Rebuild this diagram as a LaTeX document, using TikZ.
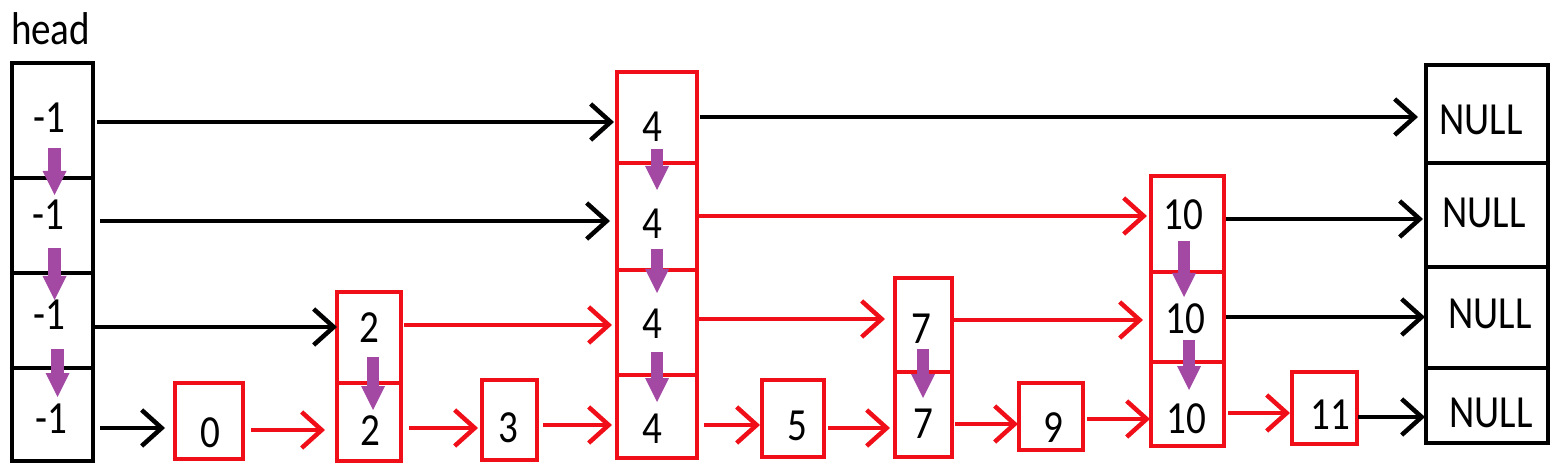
\documentclass[tikz,border=0pt]{standalone}
\usepackage{fontspec}
\setmainfont{Carlito}[FakeStretch=0.85]
\usetikzlibrary{arrows.meta}
\definecolor{lred}{RGB}{240,14,24}
\definecolor{lpurple}{RGB}{163,73,164}
\begin{document}
\begin{tikzpicture}[x=1pt,y=-1pt,
  bcell/.style={draw=black, line width=4.5pt, inner sep=0pt, outer sep=0pt},
  rcell/.style={draw=lred, line width=4.5pt, inner sep=0pt, outer sep=0pt},
  txt/.style={anchor=base, inner sep=0pt, outer sep=0pt, font=\fontsize{46}{50}\selectfont},
  conn/.style={line width=4.5pt, -{Straight Barb[length=20pt,width=36pt]}},
  barr/.style={conn, draw=black},
  rarr/.style={conn, draw=lred},
  parr/.style={draw=lpurple, line width=12.5pt, -{Triangle[length=24pt,width=24pt,line width=0pt]}}
]
\useasboundingbox (0,0) rectangle (1560,470);

% head column
\node[txt, anchor=base west] (hd) at (11,45) {head};
\node[bcell, minimum width=81pt, minimum height=115pt] (h1) at (52.5,120.5) {};
\node[bcell, minimum width=81pt, minimum height=95pt]  (h2) at (52.5,225.5) {};
\node[bcell, minimum width=81pt, minimum height=95pt]  (h3) at (52.5,320.5) {};
\node[bcell, minimum width=81pt, minimum height=93pt]  (h4) at (52.5,414.5) {};
\node[txt] (th1) at (49,133) {-1};
\node[txt] (th2) at (48,230) {-1};
\node[txt] (th3) at (49,329) {-1};
\node[txt] (th4) at (51,433) {-1};

% node 0
\node[rcell, minimum width=68pt, minimum height=76pt] (n0) at (209,421) {};
\node[txt] (t0) at (210,447) {0};

% node 2
\node[rcell, minimum width=64pt, minimum height=91pt] (n2a) at (369,337.5) {};
\node[rcell, minimum width=64pt, minimum height=78pt] (n2b) at (369,422) {};
\node[txt] (t2a) at (369,342) {2};
\node[txt] (t2b) at (370,445) {2};

% node 3
\node[rcell, minimum width=55pt, minimum height=80pt] (n3) at (509.5,420) {};
\node[txt] (t3) at (508,442) {3};

% node 4
\node[rcell, minimum width=80pt, minimum height=91pt]  (n4a) at (657,117.5) {};
\node[rcell, minimum width=80pt, minimum height=107pt] (n4b) at (657,216.5) {};
\node[rcell, minimum width=80pt, minimum height=105pt] (n4c) at (657,322.5) {};
\node[rcell, minimum width=80pt, minimum height=83pt]  (n4d) at (657,416.5) {};
\node[txt] (t4a) at (652,142) {4};
\node[txt] (t4b) at (652,239) {4};
\node[txt] (t4c) at (652,338) {4};
\node[txt] (t4d) at (652,443) {4};

% node 5
\node[rcell, minimum width=62pt, minimum height=77pt] (n5) at (793,418.5) {};
\node[txt] (t5) at (797,440) {5};

% node 7
\node[rcell, minimum width=57pt, minimum height=94pt] (n7a) at (923.5,325) {};
\node[rcell, minimum width=57pt, minimum height=85pt] (n7b) at (923.5,414.5) {};
\node[txt] (t7a) at (921,343) {7};
\node[txt] (t7b) at (923,438) {7};

% node 9
\node[rcell, minimum width=64pt, minimum height=67pt] (n9) at (1051,416.5) {};
\node[txt] (t9) at (1053,442) {9};

% node 10
\node[rcell, minimum width=73pt, minimum height=96pt] (n10a) at (1187.5,224) {};
\node[rcell, minimum width=73pt, minimum height=90pt] (n10b) at (1187.5,317) {};
\node[rcell, minimum width=73pt, minimum height=84pt] (n10c) at (1187.5,404) {};
\node[txt] (t10a) at (1183,230) {10};
\node[txt] (t10b) at (1185,333) {10};
\node[txt] (t10c) at (1186,433) {10};

% node 11
\node[rcell, minimum width=65pt, minimum height=72pt] (n11) at (1324.5,408) {};
\node[txt] (t11) at (1330,429) {11};

% NULL column
\node[bcell, minimum width=122pt, minimum height=98pt]  (N1) at (1487,114) {};
\node[bcell, minimum width=122pt, minimum height=104pt] (N2) at (1487,215) {};
\node[bcell, minimum width=122pt, minimum height=101pt] (N3) at (1487,317.5) {};
\node[bcell, minimum width=122pt, minimum height=75pt]  (N4) at (1487,405.5) {};
\node[txt] (tN1) at (1481,135) {NULL};
\node[txt] (tN2) at (1484,228) {NULL};
\node[txt] (tN3) at (1490,328) {NULL};
\node[txt] (tN4) at (1491,427) {NULL};

% level 1
\draw[barr, shorten <=4pt, shorten >=3pt] ([yshift=-1.5pt]h1.east) -- ([yshift=-1.5pt]h1.east -| n4a.west);
\draw[barr, shorten <=3pt, shorten >=8pt] ([yshift=0.5pt]n4a.east) -- ([yshift=0.5pt]n4a.east -| N1.west);
% level 2
\draw[barr, shorten <=7pt, shorten >=7pt] ([yshift=4.5pt]h2.east) -- ([yshift=4.5pt]h2.east -| n4b.west);
\draw[rarr, shorten <=1pt, shorten >=4pt] ([yshift=0.5pt]n4b.east) -- ([yshift=0.5pt]n4b.east -| n10a.west);
\draw[barr, shorten <=2pt, shorten >=3pt] ([yshift=5pt]n10a.east) -- ([yshift=5pt]n10a.east -| N2.west);
% level 3
\draw[barr, shorten <=0pt, shorten >=0pt] ([yshift=-6.5pt]h3.east) -- ([yshift=-6.5pt]h3.east -| n2a.west);
\draw[rarr, shorten <=3pt, shorten >=5pt] ([yshift=12.5pt]n2a.east) -- ([yshift=12.5pt]n2a.east -| n4c.west);
\draw[rarr, shorten <=1pt, shorten >=10pt] ([yshift=3.5pt]n4c.east) -- ([yshift=3.5pt]n4c.east -| n7a.west);
\draw[rarr, shorten <=2pt, shorten >=8pt] ([yshift=5pt]n7a.east) -- ([yshift=5pt]n7a.east -| n10b.west);
\draw[barr, shorten <=2pt, shorten >=1pt] (n10b.east) -- (n10b.east -| N3.west);
% level 4
\draw[barr, shorten <=7pt, shorten >=10pt] ([yshift=-13.5pt]h4.east) -- ([yshift=-13.5pt]h4.east -| n0.west);
\draw[rarr, shorten <=8pt, shorten >=12pt] ([yshift=-9pt]n0.east) -- ([yshift=-9pt]n0.east -| n2b.west);
\draw[rarr, shorten <=8pt, shorten >=4pt] ([yshift=-6pt]n2b.east) -- ([yshift=-6pt]n2b.east -| n3.west);
\draw[rarr, shorten <=6pt, shorten >=5pt] ([yshift=-5pt]n3.east) -- ([yshift=-5pt]n3.east -| n4d.west);
\draw[rarr, shorten <=7pt, shorten >=2pt] ([yshift=-8.5pt]n4d.east) -- ([yshift=-8.5pt]n4d.east -| n5.west);
\draw[rarr, shorten <=4pt, shorten >=5pt] ([yshift=-9.5pt]n5.east) -- ([yshift=-9.5pt]n5.east -| n7b.west);
\draw[rarr, shorten <=3pt, shorten >=1pt] ([yshift=-9.5pt]n7b.east) -- ([yshift=-9.5pt]n7b.east -| n9.west);
\draw[rarr, shorten <=4pt, shorten >=1pt] ([yshift=-2.5pt]n9.east) -- ([yshift=-2.5pt]n9.east -| n10c.west);
\draw[rarr, shorten <=4pt, shorten >=2pt] ([yshift=-9pt]n10c.east) -- ([yshift=-9pt]n10c.east -| n11.west);
\draw[barr, shorten <=1pt, shorten >=1pt] ([yshift=-9pt]n11.east) -- ([yshift=-9pt]n11.east -| N4.west);

% purple down arrows
\draw[parr] ([xshift=2pt,yshift=30pt]h1.south) -- ([xshift=2pt,yshift=-17pt]h1.south);
\draw[parr] ([xshift=2pt,yshift=25pt]h2.south) -- ([xshift=2pt,yshift=-27pt]h2.south);
\draw[parr] ([xshift=5pt,yshift=19pt]h3.south) -- ([xshift=5pt,yshift=-29pt]h3.south);
\draw[parr] ([xshift=4pt,yshift=26pt]n2a.south) -- ([xshift=4pt,yshift=-27pt]n2a.south);
\draw[parr] ([xshift=0pt,yshift=14pt]n4a.south) -- ([xshift=0pt,yshift=-27pt]n4a.south);
\draw[parr] ([xshift=0pt,yshift=21pt]n4b.south) -- ([xshift=0pt,yshift=-23pt]n4b.south);
\draw[parr] ([xshift=0pt,yshift=23pt]n4c.south) -- ([xshift=0pt,yshift=-27pt]n4c.south);
\draw[parr] ([xshift=-0.5pt,yshift=23pt]n7a.south) -- ([xshift=-0.5pt,yshift=-26pt]n7a.south);
\draw[parr] ([xshift=-3.5pt,yshift=31pt]n10a.south) -- ([xshift=-3.5pt,yshift=-25pt]n10a.south);
\draw[parr] ([xshift=1.5pt,yshift=22pt]n10b.south) -- ([xshift=1.5pt,yshift=-28pt]n10b.south);
\end{tikzpicture}
\end{document}
